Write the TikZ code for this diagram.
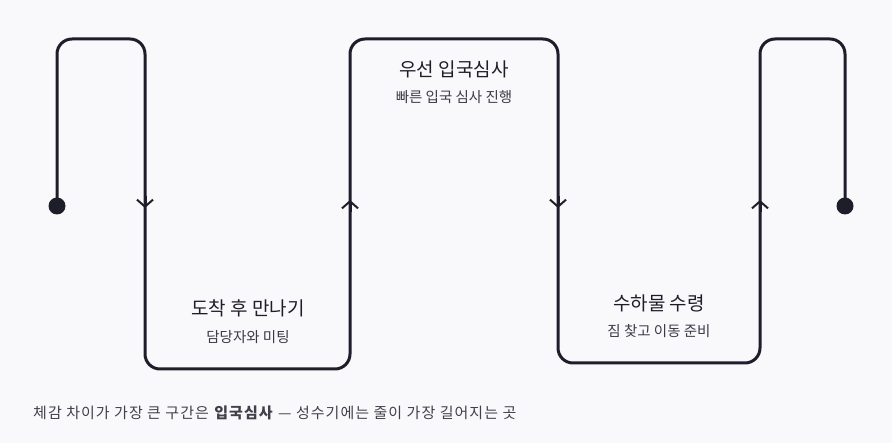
\documentclass[tikz,border=0pt]{standalone}
\usepackage{fontspec}
\setmainfont{Noto Sans CJK KR}
\newfontfamily\capfont[LetterSpace=7]{Noto Sans CJK KR}
\usetikzlibrary{arrows.meta}
\definecolor{ink}{HTML}{1E1E2A}
\definecolor{subink}{HTML}{3A3A48}
\definecolor{bg}{HTML}{F9F9FB}
\begin{document}
\begin{tikzpicture}[x=1pt,y=-1pt,
  flow/.style={draw=ink,line width=3pt,rounded corners=15pt,line join=round},
  chev/.style={draw=ink,line width=3pt,-{Straight Barb[length=7pt,width=16pt,line width=2pt]}},
  enddot/.style={circle,fill=ink,inner sep=0pt,minimum size=17pt},
  ttltxt/.style={text=ink,font=\fontsize{19}{22}\selectfont,inner sep=0pt},
  subtxt/.style={text=subink,font=\fontsize{14.5}{17}\selectfont,inner sep=0pt},
  captxt/.style={text=ink!85,font=\capfont\fontsize{15}{18}\selectfont,inner sep=0pt,anchor=west}]
\fill[bg] (0,0) rectangle (892,443);
\useasboundingbox (0,0) rectangle (892,443);
% end points
\node[enddot] (s) at (57,206) {};
\node[enddot] (e) at (845,206) {};
% corners
\coordinate (a1) at (57,39);
\coordinate (a2) at (145,39);
\coordinate (m1) at (145,208);
\coordinate (b1) at (145,369);
\coordinate (b2) at (350,369);
\coordinate (m2) at (350,200);
\coordinate (c1) at (350,39);
\coordinate (c2) at (558,39);
\coordinate (m3) at (558,208);
\coordinate (d1) at (558,363);
\coordinate (d2) at (760,363);
\coordinate (m4) at (760,200);
\coordinate (f1) at (760,39);
\coordinate (f2) at (845,39);
\draw[flow] (s.center) -- (a1) -- (a2) -- (b1) -- (b2) -- (c1) -- (c2) -- (d1) -- (d2) -- (f1) -- (f2) -- (e.center);
% direction chevrons
\draw[chev] ([yshift=12pt]m1) -- (m1);
\draw[chev] ([yshift=-12pt]m2) -- (m2);
\draw[chev] ([yshift=12pt]m3) -- (m3);
\draw[chev] ([yshift=-12pt]m4) -- (m4);
% labels
\node[ttltxt] (t2) at (454,69) {우선 입국심사};
\node[subtxt] (s2) at (454,97) {빠른 입국 심사 진행};
\node[ttltxt] (t1) at (248,308) {도착 후 만나기};
\node[subtxt] (s1) at (248,337) {담당자와 미팅};
\node[ttltxt] (t3) at (659,303) {수하물 수령};
\node[subtxt] (s3) at (659,331) {짐 찾고 이동 준비};
\node[captxt] (cp) at (33,413) {체감 차이가 가장 큰 구간은 \textbf{입국심사} — 성수기에는 줄이 가장 길어지는 곳};
\end{tikzpicture}
\end{document}
